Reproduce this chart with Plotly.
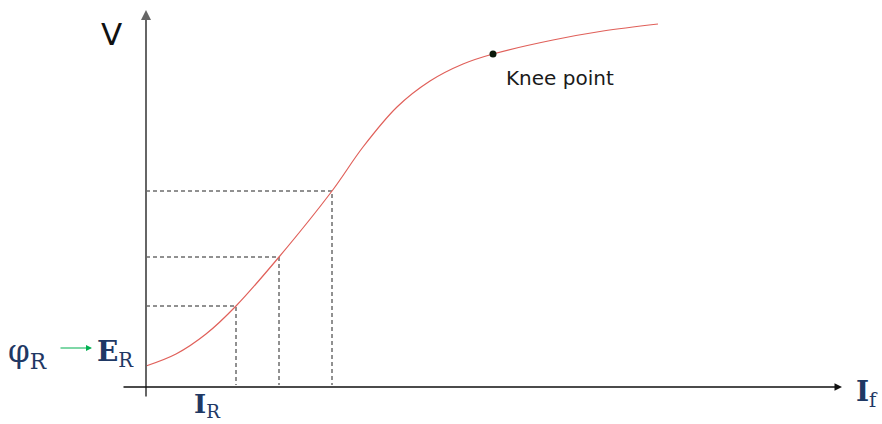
import plotly.graph_objects as go

# Magnetisation (open-circuit) characteristic: generated voltage vs field current
field_current = [0, 3.0, 6.0, 9.0, 13.3, 18.6, 21.7, 25.1, 28.4, 31.7, 34.7, 40.7, 45.7, 51.2]
voltage = [2.1, 3.3, 5.3, 8.1, 13.0, 19.6, 24.0, 28.0, 30.6, 32.3, 33.3, 34.7, 35.6, 36.3]

# Operating points marked with dashed projections onto both axes
guide_current = [9.0, 13.3, 18.6]
guide_voltage = [8.1, 13.0, 19.6]

# Knee of the curve
knee_current = [34.7]
knee_voltage = [33.3]

NAVY = "#1f3864"
SERIF = "DejaVu Serif"

fig = go.Figure()

# dashed projections
for xi, yi in zip(guide_current, guide_voltage):
    fig.add_trace(go.Scatter(x=[0, xi, xi], y=[yi, yi, 0.2], mode="lines",
                             line=dict(color="#222222", width=1, dash="4px,3px"),
                             hoverinfo="skip", showlegend=False))

# characteristic curve
fig.add_trace(go.Scatter(x=field_current, y=voltage, mode="lines",
                         line=dict(color="#e0605a", width=1.2, shape="spline", smoothing=1.0),
                         showlegend=False))

# knee marker
fig.add_trace(go.Scatter(x=knee_current, y=knee_voltage, mode="markers",
                         marker=dict(color="#0b1a0b", size=7), showlegend=False))

# axes drawn as arrows
fig.add_annotation(x=0, y=37.7, ax=0, ay=-1.1, xref="x", yref="y", axref="x", ayref="y",
                   text="", showarrow=True, arrowhead=2, arrowsize=1, arrowwidth=2,
                   arrowcolor="#666666")
fig.add_annotation(x=69.6, y=0, ax=-2.4, ay=0, xref="x", yref="y", axref="x", ayref="y",
                   text="", showarrow=True, arrowhead=2, arrowsize=1, arrowwidth=1.5,
                   arrowcolor="#111111")

# excitation arrow  phi_R -> E_R
fig.add_annotation(x=-5.4, y=3.9, ax=-8.7, ay=3.9, xref="x", yref="y", axref="x", ayref="y",
                   text="", showarrow=True, arrowhead=2, arrowsize=1, arrowwidth=1.2,
                   arrowcolor="#00b050")

labels = [
    dict(x=-3.5, y=35.3, text="V", xanchor="center",
         font=dict(family="DejaVu Sans", size=31, color="#111111")),
    dict(x=35.8, y=30.9, text="Knee point", xanchor="left",
         font=dict(family="DejaVu Sans", size=20, color="#1a1a1a")),
    dict(x=-14.0, y=3.4, text="φ<sub>R</sub>", xanchor="left",
         font=dict(family=SERIF, size=31, color=NAVY)),
    dict(x=-5.1, y=3.4, text="<b>E</b><sub>R</sub>", xanchor="left",
         font=dict(family=SERIF, size=28, color=NAVY)),
    dict(x=4.6, y=-1.8, text="<b>I</b><sub>R</sub>", xanchor="left",
         font=dict(family=SERIF, size=26, color=NAVY)),
    dict(x=70.8, y=-0.6, text="<b>I</b><sub>f</sub>", xanchor="left",
         font=dict(family=SERIF, size=28, color=NAVY)),
]
for lab in labels:
    fig.add_annotation(xref="x", yref="y", showarrow=False, yanchor="middle", **lab)

fig.update_layout(
    width=882, height=424,
    margin=dict(l=0, r=0, t=0, b=0),
    paper_bgcolor="white", plot_bgcolor="white",
    xaxis=dict(range=[-14.6, 73.6], visible=False, fixedrange=True),
    yaxis=dict(range=[-3.7, 38.7], visible=False, fixedrange=True),
    showlegend=False,
)

fig.write_html("out.html")
